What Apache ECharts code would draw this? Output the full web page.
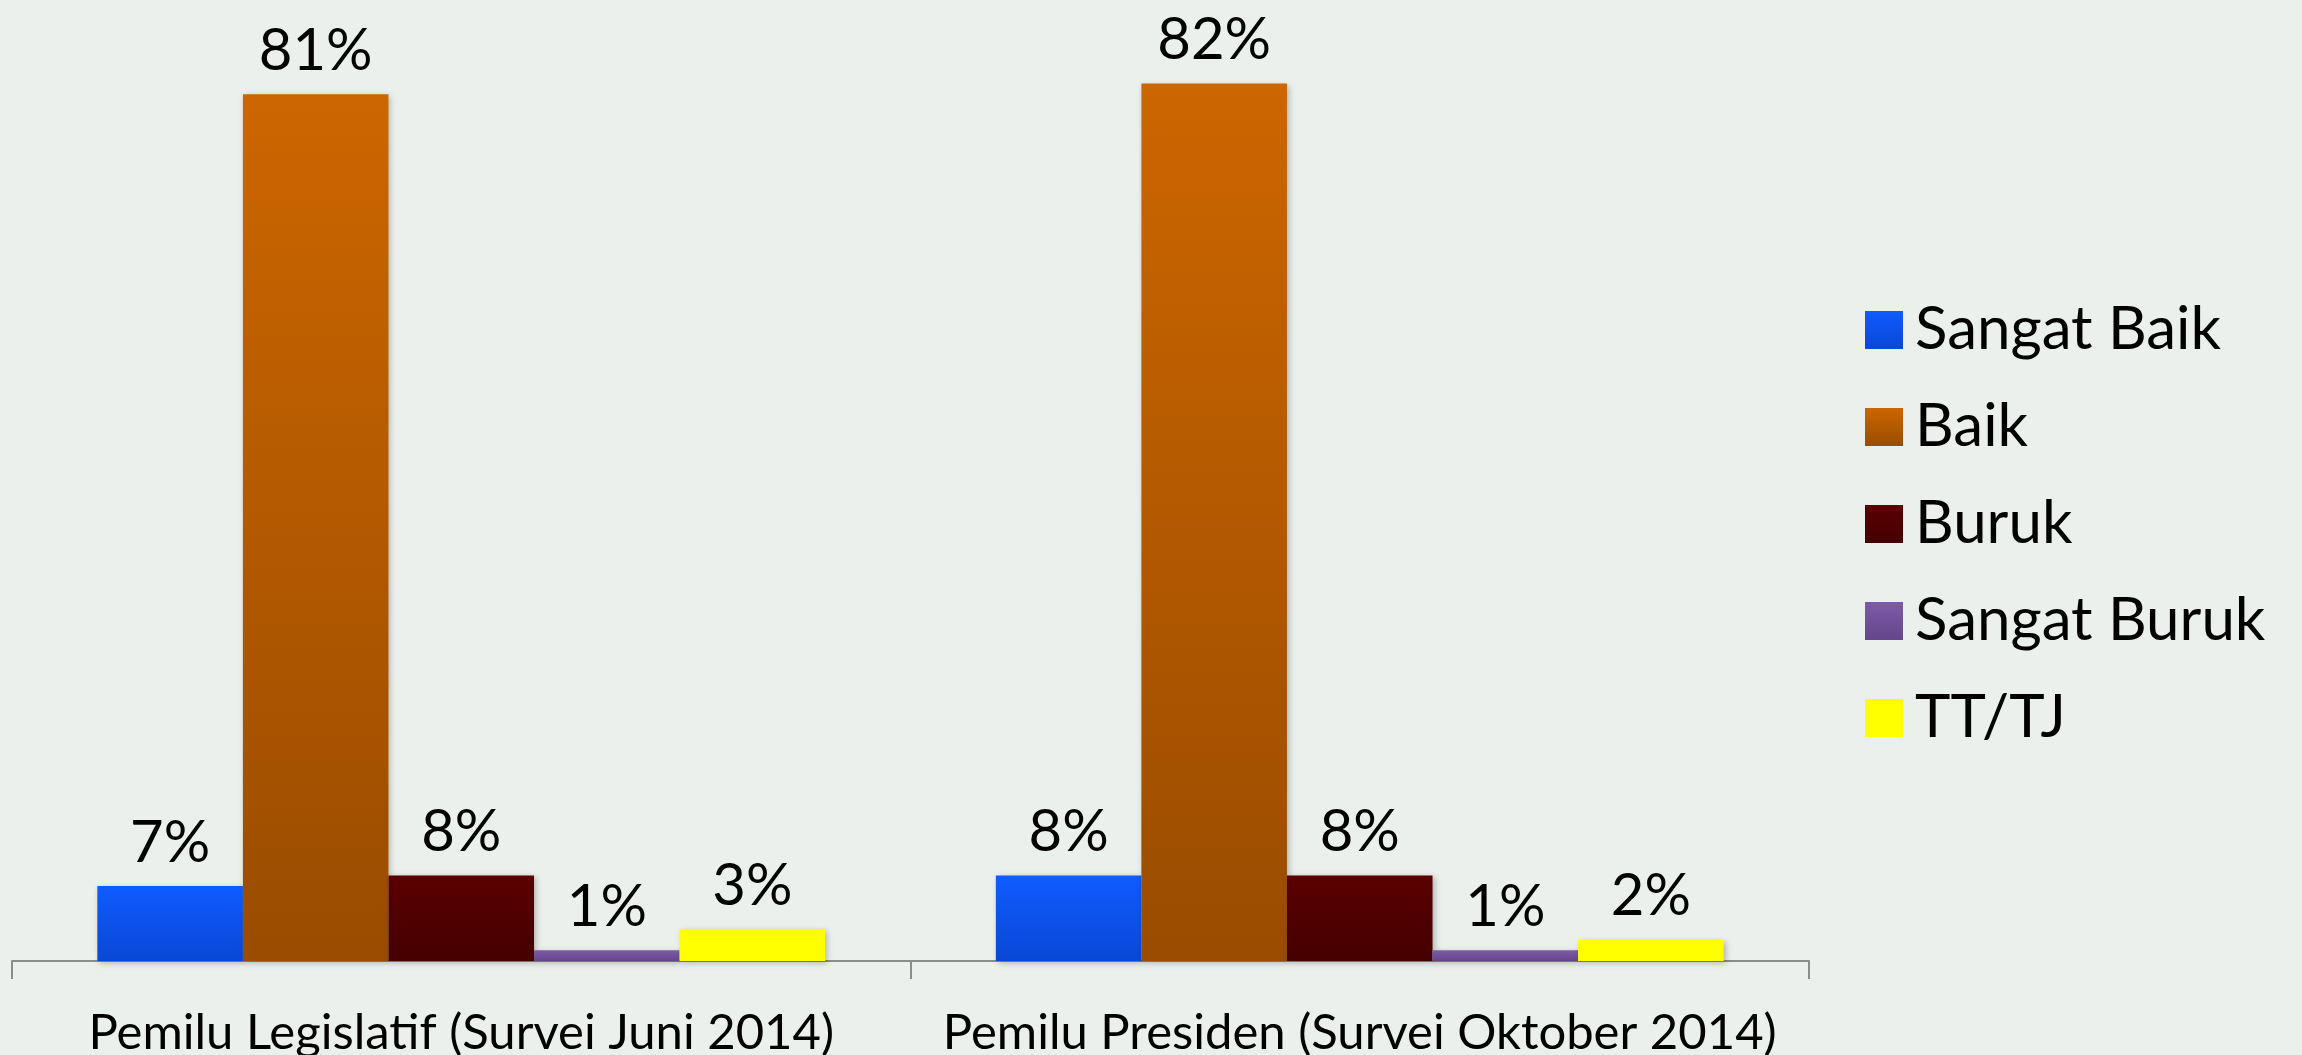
<!DOCTYPE html>
<html>
<head>
<meta charset="utf-8">
<script src="https://cdn.jsdelivr.net/npm/echarts@6/dist/echarts.min.js"></script>
<style>
html,body{margin:0;padding:0;background:#EBF0EC;}
#c{width:2302px;height:1055px;}
</style>
</head>
<body>
<div id="c"></div>
<script>
const categories = ["Pemilu Legislatif (Survei Juni 2014)", "Pemilu Presiden (Survei Oktober 2014)"];
const seriesNames = ["Sangat Baik", "Baik", "Buruk", "Sangat Buruk", "TT/TJ"];
const sangatBaik = [7, 8];
const baik = [81, 82];
const buruk = [8, 8];
const sangatBuruk = [1, 1];
const ttTj = [3, 2];

const values = [sangatBaik, baik, buruk, sangatBuruk, ttTj];
const colorStops = [
  ["#0F5CFF", "#0A47D6"],
  ["#CC6600", "#9A4C00"],
  ["#5A0000", "#450000"],
  ["#7E5BA8", "#644689"],
  ["#FFFF00", "#FFFF00"]
];
const FONT = "Lato";

const chart = echarts.init(document.getElementById('c'));
chart.setOption({
  backgroundColor: "#EBF0EC",
  animation: false,
  grid: {left: 12, right: 493, top: 51.5, bottom: 94, containLabel: false, outerBoundsMode: "none"},
  legend: {
    orient: "vertical",
    left: 1860,
    top: 295,
    itemWidth: 38,
    itemHeight: 38,
    itemGap: 37,
    icon: "rect",
    textStyle: {fontFamily: FONT, fontSize: 60, color: "#000", lineHeight: 38, padding: [4, 0, 0, 7]},
    data: seriesNames
  },
  xAxis: {
    type: "category",
    data: categories,
    axisLine: {lineStyle: {color: "#8C8C8C", width: 2}},
    axisTick: {show: true, length: 18, lineStyle: {color: "#8C8C8C", width: 2}},
    axisLabel: {fontFamily: FONT, fontSize: 49, color: "#000", margin: 48, interval: 0}
  },
  yAxis: {
    type: "value",
    min: 0,
    max: 85,
    show: false,
    splitLine: {show: false}
  },
  series: seriesNames.map((name, i) => ({
    name: name,
    type: "bar",
    data: values[i],
    barGap: "0%",
    barCategoryGap: "19%",
    itemStyle: {
      color: new echarts.graphic.LinearGradient(0, 0, 0, 1, [
        {offset: 0, color: colorStops[i][0]},
        {offset: 1, color: colorStops[i][1]}
      ]),
      shadowColor: "rgba(0,0,0,0.25)",
      shadowBlur: 6,
      shadowOffsetX: 2,
      shadowOffsetY: 2
    },
    label: {
      show: true,
      position: "top",
      distance: 14,
      formatter: "{c}%",
      fontFamily: FONT,
      fontSize: 58,
      color: "#000"
    }
  }))
});
</script>
</body>
</html>
